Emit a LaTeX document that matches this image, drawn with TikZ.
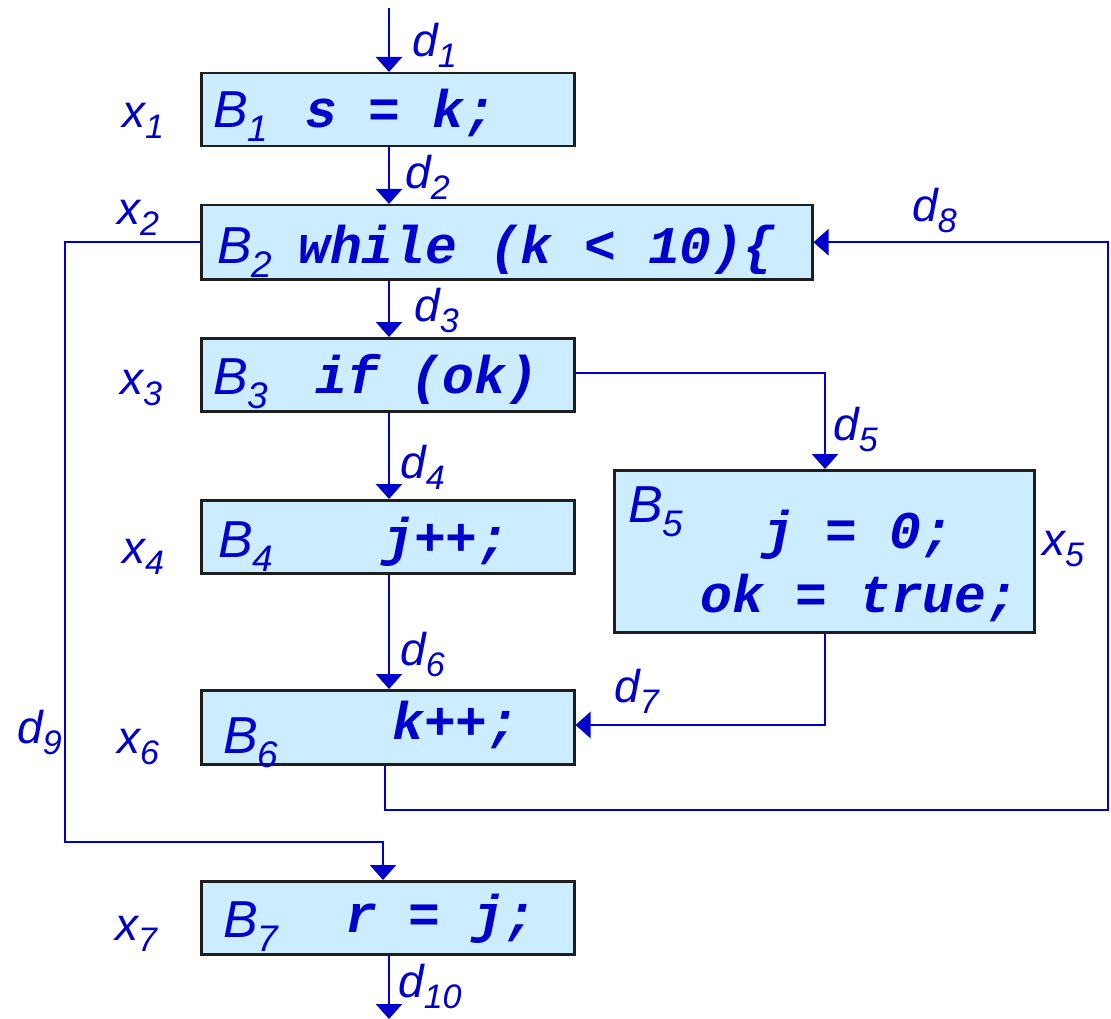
\documentclass[tikz,border=0pt]{standalone}
\usepackage{fontspec}
\setmainfont{Liberation Sans}
\newfontfamily\codefont{Liberation Mono}
\usetikzlibrary{arrows.meta}
\definecolor{ink}{RGB}{0,0,204}
\definecolor{boxfill}{RGB}{204,236,255}
\definecolor{edge}{RGB}{30,30,30}
\newcommand\lbl[2]{\fontsize{46}{50}\selectfont\itshape #1\raisebox{-11pt}{\fontsize{34}{34}\selectfont #2}}
\newcommand\blab[2]{\fontsize{52}{56}\selectfont\itshape #1\raisebox{-14pt}{\fontsize{37}{37}\selectfont #2}}
\begin{document}
\begin{tikzpicture}[x=1pt,y=-1pt,
  blk/.style={draw=edge,line width=2.5pt,fill=boxfill,inner sep=0pt,anchor=north west},
  conn/.style={draw=ink,line width=2.5pt,-{Triangle[length=15pt,width=26pt]}},
  plain/.style={draw=ink,line width=2.5pt},
  txt/.style={text=ink,inner sep=0pt,anchor=base west},
  code/.style={text=ink,inner sep=0pt,anchor=base west,font=\codefont\bfseries\itshape\fontsize{53}{56}\selectfont}]
\useasboundingbox (0,0) rectangle (1111,1019);
% blocks
\node[blk,minimum width=373pt,minimum height=73pt] (b1) at (200,72) {};
\node[blk,minimum width=611pt,minimum height=74pt] (b2) at (200,204) {};
\node[blk,minimum width=373pt,minimum height=73pt] (b3) at (200,337) {};
\node[blk,minimum width=373pt,minimum height=73pt] (b4) at (200,499) {};
\node[blk,minimum width=420pt,minimum height=162pt] (b5) at (613,469) {};
\node[blk,minimum width=373pt,minimum height=74pt] (b6) at (200,689) {};
\node[blk,minimum width=373pt,minimum height=73pt] (b7) at (200,880) {};
% block texts
\node[txt] (t1) at (213,128) {\blab{B}{1}};
\node[code] (c1) at (305,128) {s = k;};
\node[txt] (t2) at (217,263) {\blab{B}{2}};
\node[code] (c2) at (298,263) {while (k < 10)\{};
\node[txt] (t3) at (213,394) {\blab{B}{3}};
\node[code] (c3) at (315,393) {if (ok)};
\node[txt] (t4) at (218,557) {\blab{B}{4}};
\node[code] (c4) at (382,555) {j++;};
\node[txt] (t5) at (628,522) {\blab{B}{5}};
\node[code] (c5a) at (762,548) {j = 0;};
\node[code] (c5b) at (700,612) {ok = true;};
\node[txt] (t6) at (223,753) {\blab{B}{6}};
\node[code] (c6) at (392,739) {k++;};
\node[txt] (t7) at (223,937) {\blab{B}{7}};
\node[code] (c7) at (345,932) {r = j;};
% x labels
\node[txt] (x1) at (122,128) {\lbl{x}{1}};
\node[txt] (x2) at (117,225) {\lbl{x}{2}};
\node[txt] (x3) at (120,394) {\lbl{x}{3}};
\node[txt] (x4) at (122,563) {\lbl{x}{4}};
\node[txt] (x5) at (1042,555) {\lbl{x}{5}};
\node[txt] (x6) at (117,753) {\lbl{x}{6}};
\node[txt] (x7) at (115,940) {\lbl{x}{7}};
% d labels
\node[txt] (d1) at (412,57) {\lbl{d}{1}};
\node[txt] (d2) at (405,189) {\lbl{d}{2}};
\node[txt] (d3) at (414,321) {\lbl{d}{3}};
\node[txt] (d4) at (400,478) {\lbl{d}{4}};
\node[txt] (d5) at (833,440) {\lbl{d}{5}};
\node[txt] (d6) at (400,665) {\lbl{d}{6}};
\node[txt] (d7) at (614,702) {\lbl{d}{7}};
\node[txt] (d8) at (912,222) {\lbl{d}{8}};
\node[txt] (d9) at (17,743) {\lbl{d}{9}};
\node[txt] (d10) at (398,997) {\lbl{d}{10}};
% connector coordinates
\coordinate (in) at (389,8);
\coordinate (out) at (389,1019);
\coordinate (r5) at (825,373);
\coordinate (r7) at (825,725);
\coordinate (l6) at (385,810);
\coordinate (r8) at (1108,810);
\coordinate (l9) at (65,842);
\coordinate (j9) at (383,842);
% connectors
\draw[conn] (in) -- (b1.north -| in);
\draw[conn] (b1.south -| in) -- (b2.north -| in);
\draw[conn] (b2.south -| in) -- (b3.north -| in);
\draw[conn] (b3.south -| in) -- (b4.north -| in);
\draw[conn] (b4.south -| in) -- (b6.north -| in);
\draw[conn] (b3.east |- r5) -- (r5) -- (b5.north -| r5);
\draw[conn] (b5.south -| r7) -- (r7) -- (b6.east |- r7);
\draw[conn] (b6.south -| l6) -- (l6) -- (r8) -- (r8 |- b2.east) -- (b2.east);
\draw[conn] (b2.west) -- (b2.west -| l9) -- (l9) -- (j9) -- (b7.north -| j9);
\draw[conn] (b7.south -| out) -- (out);
\end{tikzpicture}
\end{document}
